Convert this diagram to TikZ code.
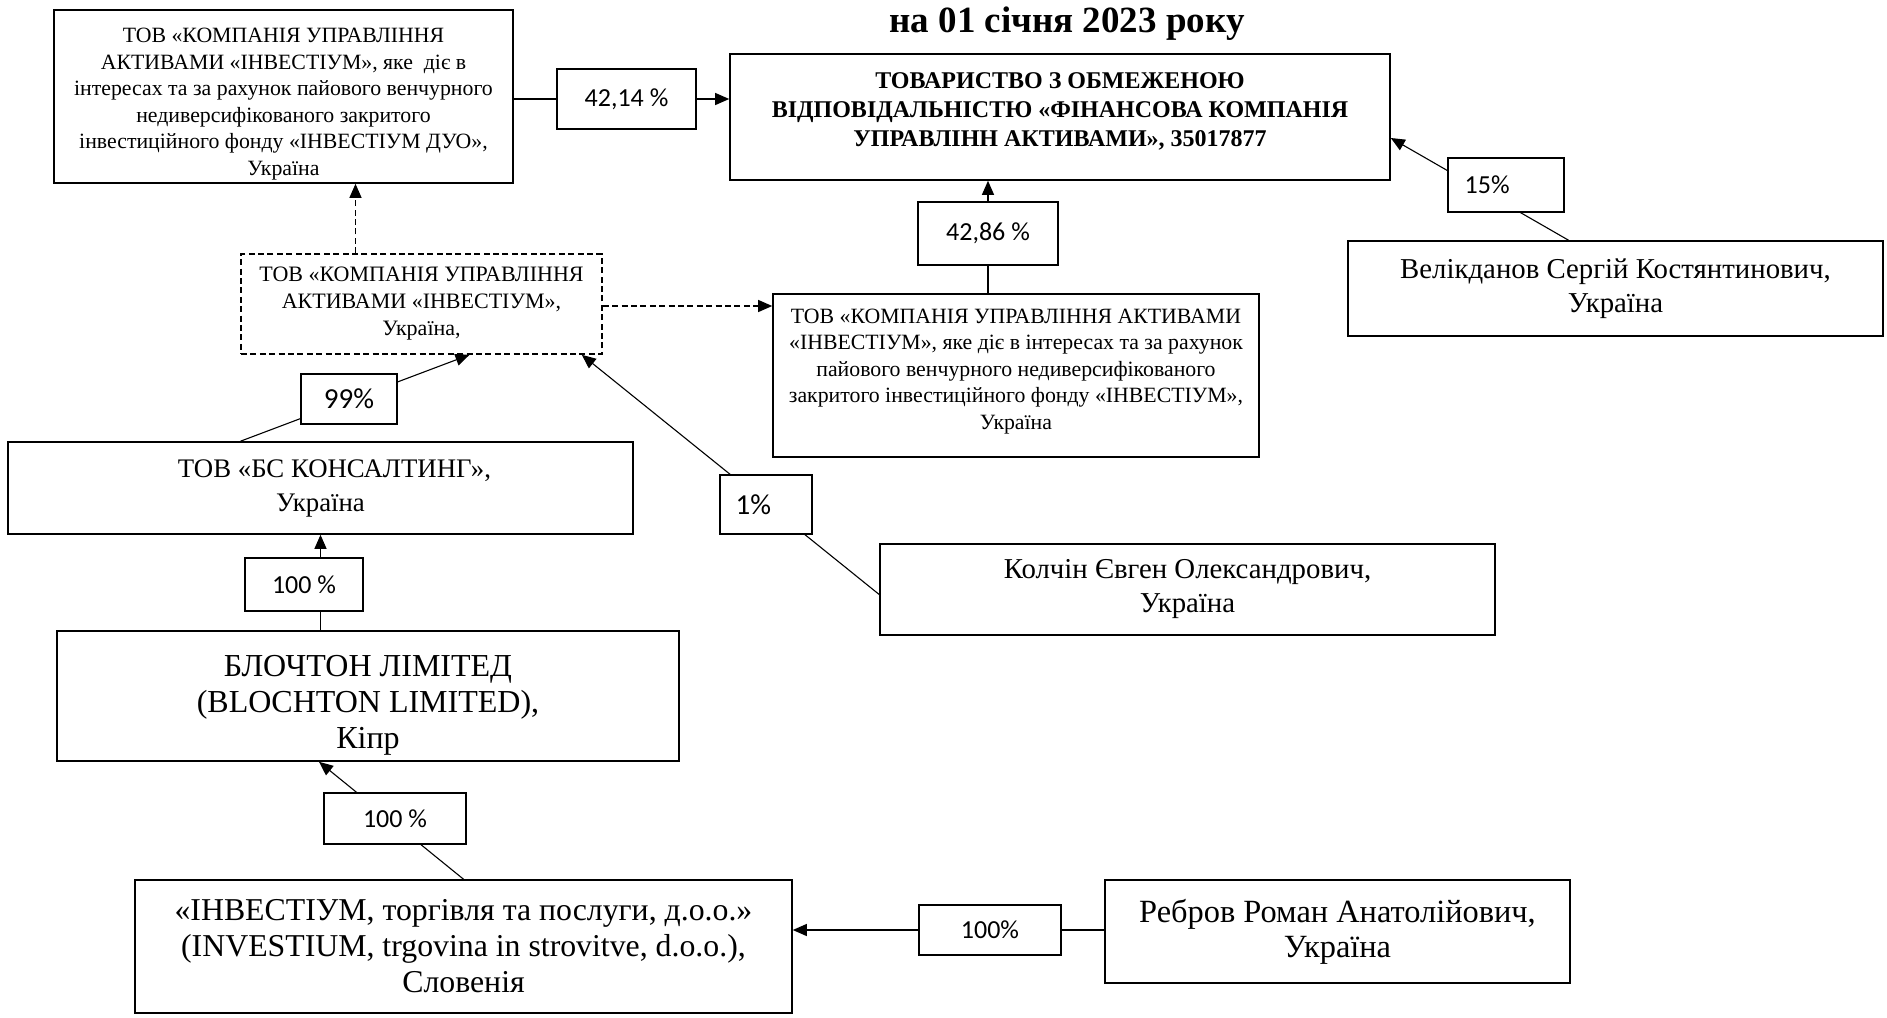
\documentclass[tikz,border=0pt]{standalone}
\usepackage{fontspec}
\setmainfont{Liberation Serif}
\newfontfamily\pctfont{Carlito}
\usepackage{tikz}
\usetikzlibrary{arrows.meta,backgrounds,calc}

\begin{document}
\begin{tikzpicture}
		[x=0.5pt,y=-0.5pt,line cap=round,
		%Styles
		entity/.style={draw=framecolor,line width=0.8pt,align=center,inner sep=0pt},
		dashed entity/.style={entity,dash pattern=on 3pt off 1.7pt,line cap=butt},
		share/.style={draw=framecolor,line width=0.7pt,fill=white,inner sep=0pt,font=\pctfont\fontsize{13}{15}\selectfont},
		link/.style={draw=framecolor,line width=0.55pt,-{Triangle[length=7pt,width=6pt]}},
		dashed link/.style={link,dash pattern=on 3pt off 1.7pt,line cap=butt},
		small text/.style={font=\fontsize{10.9}{13.25}\selectfont},
		name text/.style={font=\fontsize{14.4}{17}\selectfont}
		]
		
		%Colors
		\colorlet{framecolor}{black}
		
		%The graphic
		\useasboundingbox (0,0) rectangle (1887,1018);
		\node[anchor=base,font=\bfseries\fontsize{18.5}{22}\selectfont] (title) at (1067,32) {на 01 січня 2023 року};
		
		\node[entity,small text,minimum width=229.5pt,minimum height=86.5pt] (duo) at (283.5,96.5)
			{ТОВ «КОМПАНІЯ УПРАВЛІННЯ\\ АКТИВАМИ «ІНВЕСТІУМ», яке\ \ діє в\\ інтересах та за рахунок пайового венчурного\\ недиверсифікованого закритого\\ інвестиційного фонду «ІНВЕСТІУМ ДУО»,\\ Україна\\[-18.6pt]};
		\node[entity,font=\bfseries\fontsize{12}{14.5}\selectfont,minimum width=330pt,minimum height=63pt] (main) at (1060,117)
			{ТОВАРИСТВО З ОБМЕЖЕНОЮ\\ ВІДПОВІДАЛЬНІСТЮ «ФІНАНСОВА КОМПАНІЯ\\ УПРАВЛІНН АКТИВАМИ», 35017877\\[-7pt]};
		\node[entity,name text,minimum width=267.5pt,minimum height=47.5pt] (velik) at (1615.5,288.5)
			{Велікданов Сергій Костянтинович,\\ Україна};
		\node[entity,small text,minimum width=243pt,minimum height=81.5pt] (fund) at (1016,375.5)
			{ТОВ «КОМПАНІЯ УПРАВЛІННЯ АКТИВАМИ\\ «ІНВЕСТІУМ», яке діє в інтересах та за рахунок\\ пайового венчурного недиверсифікованого\\ закритого інвестиційного фонду «ІНВЕСТІУМ»,\\ Україна\\[-7pt]};
		\node[dashed entity,font=\fontsize{11}{13.5}\selectfont,minimum width=180.5pt,minimum height=50pt] (kua) at (421.5,304)
			{ТОВ «КОМПАНІЯ УПРАВЛІННЯ\\ АКТИВАМИ «ІНВЕСТІУМ»,\\ Україна,};
		\node[entity,font=\fontsize{13.4}{17}\selectfont,minimum width=312.5pt,minimum height=46pt] (bs) at (320.5,488)
			{\hspace*{14pt}ТОВ «БС КОНСАЛТИНГ»,\\ Україна};
		\node[entity,name text,minimum width=307.5pt,minimum height=45.5pt] (kolchin) at (1187.5,589.5)
			{Колчін Євген Олександрович,\\ Україна};
		\node[entity,font=\fontsize{16}{18}\selectfont,minimum width=311pt,minimum height=65pt] (blochton) at (368,696)
			{БЛОЧТОН ЛІМІТЕД\\ (BLOCHTON LIMITED),\\ Кіпр\\[-24pt]};
		\node[entity,font=\fontsize{15.9}{18}\selectfont,minimum width=328.5pt,minimum height=66.5pt] (investium) at (463.5,946.5)
			{«ІНВЕСТІУМ, торгівля та послуги, д.о.о.»\\ (INVESTIUM, trgovina in strovitve, d.o.o.),\\ Словенія};
		\node[entity,font=\fontsize{16.2}{17.5}\selectfont,minimum width=232.5pt,minimum height=51.5pt] (rebrov) at (1337.5,931.5)
			{Ребров Роман Анатолійович,\\ Україна};
		
		%Shares
		\node[share,minimum width=69.5pt,minimum height=30pt] (s4214) at (626.5,99) {42,14 \%};
		\node[share,minimum width=58pt,minimum height=27pt,text width=50pt,align=left] (s15) at (1506,185) {\ 15\%};
		\node[share,minimum width=70pt,minimum height=31.5pt] (s4286) at (988,233.5) {42,86 \%};
		\node[share,font=\pctfont\fontsize{14.5}{16}\selectfont,minimum width=48pt,minimum height=25pt] (s99) at (349,399) {99\%};
		\node[share,font=\pctfont\fontsize{14.5}{16}\selectfont,minimum width=46pt,minimum height=29.5pt,text width=40pt,align=left] (s1) at (766,504.5) {\ 1\%};
		\node[share,minimum width=59pt,minimum height=26.5pt] (s100a) at (304,584.5) {100 \%};
		\node[share,minimum width=71pt,minimum height=25.5pt] (s100b) at (395,818.5) {100 \%};
		\node[share,minimum width=71pt,minimum height=25pt] (s100c) at (990,930) {100\%};
		
		%Links
		\begin{scope}[on background layer]
			\coordinate (kuatop) at ($(kua.north)+(-66,0)$);
			\draw[link] (duo.east |- s4214) -- (main.west |- s4214);
			\draw[link] ($(velik.north)+(-47,0)$) -- ($(main.east)+(0,21)$);
			\draw[link] (s4286 |- fund.north) -- (s4286 |- main.south);
			\draw[dashed link] (kuatop) -- (kuatop |- duo.south);
			\draw[dashed link] ($(kua.east)+(0,2)$) -- ($(kua.east -| fund.west)+(0,2)$);
			\draw[link] ($(bs.north)+(-80,0)$) -- ($(kua.south)+(48,0)$);
			\draw[link] ($(kolchin.west)+(0,5)$) -- ($(kua.south east)+(-21,0)$);
			\draw[link] (bs.south |- blochton.north) -- (bs.south);
			\draw[link] (investium.north) -- ($(blochton.south)+(-49,0)$);
			\draw[link] (rebrov.west |- s100c) -- (investium.east |- s100c);
		\end{scope}
	\end{tikzpicture}
\end{document}
